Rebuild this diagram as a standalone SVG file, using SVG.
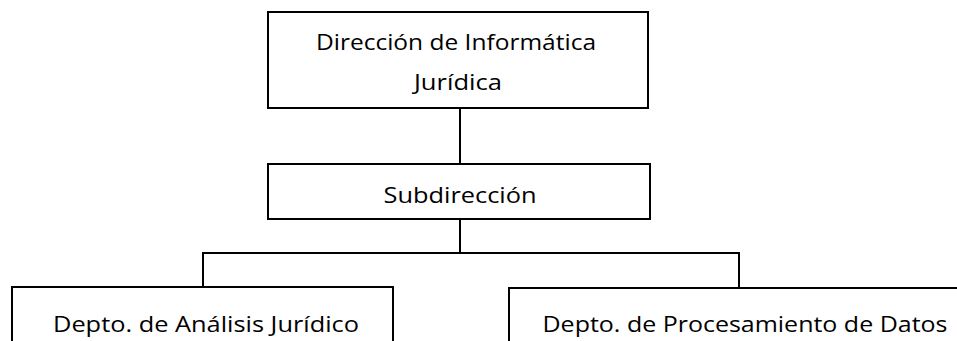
<svg xmlns="http://www.w3.org/2000/svg" width="957" height="341" viewBox="0 0 957 341">
<style>
.box{fill:#fff;stroke:#000;stroke-width:2}
.ln{fill:none;stroke:#000;stroke-width:2}
text{font-family:"Open Sans","Liberation Sans",sans-serif;font-size:22px;fill:#000;text-anchor:middle}
</style>
<rect width="957" height="341" fill="#fff"/>
<g id="connectors">
<line class="ln" x1="460" y1="108" x2="460" y2="164"/>
<line class="ln" x1="460" y1="219" x2="460" y2="253"/>
<polyline class="ln" points="203,287 203,253 739,253 739,288"/>
</g>
<g id="n1">
<rect class="box" x="268" y="12" width="380" height="96"/>
<text x="456" y="50" textLength="280" lengthAdjust="spacingAndGlyphs">Dirección de Informática</text>
<text x="458" y="90" textLength="88" lengthAdjust="spacingAndGlyphs">Jurídica</text>
</g>
<g id="n2">
<rect class="box" x="268" y="164" width="382" height="55"/>
<text x="460" y="203" textLength="153" lengthAdjust="spacingAndGlyphs">Subdirección</text>
</g>
<g id="n3">
<rect class="box" x="12" y="287" width="381" height="70"/>
<text x="206" y="332" textLength="306" lengthAdjust="spacingAndGlyphs">Depto. de Análisis Jurídico</text>
</g>
<g id="n4">
<rect class="box" x="509" y="288" width="460" height="70"/>
<text x="745" y="332" textLength="405" lengthAdjust="spacingAndGlyphs">Depto. de Procesamiento de Datos</text>
</g>
</svg>
